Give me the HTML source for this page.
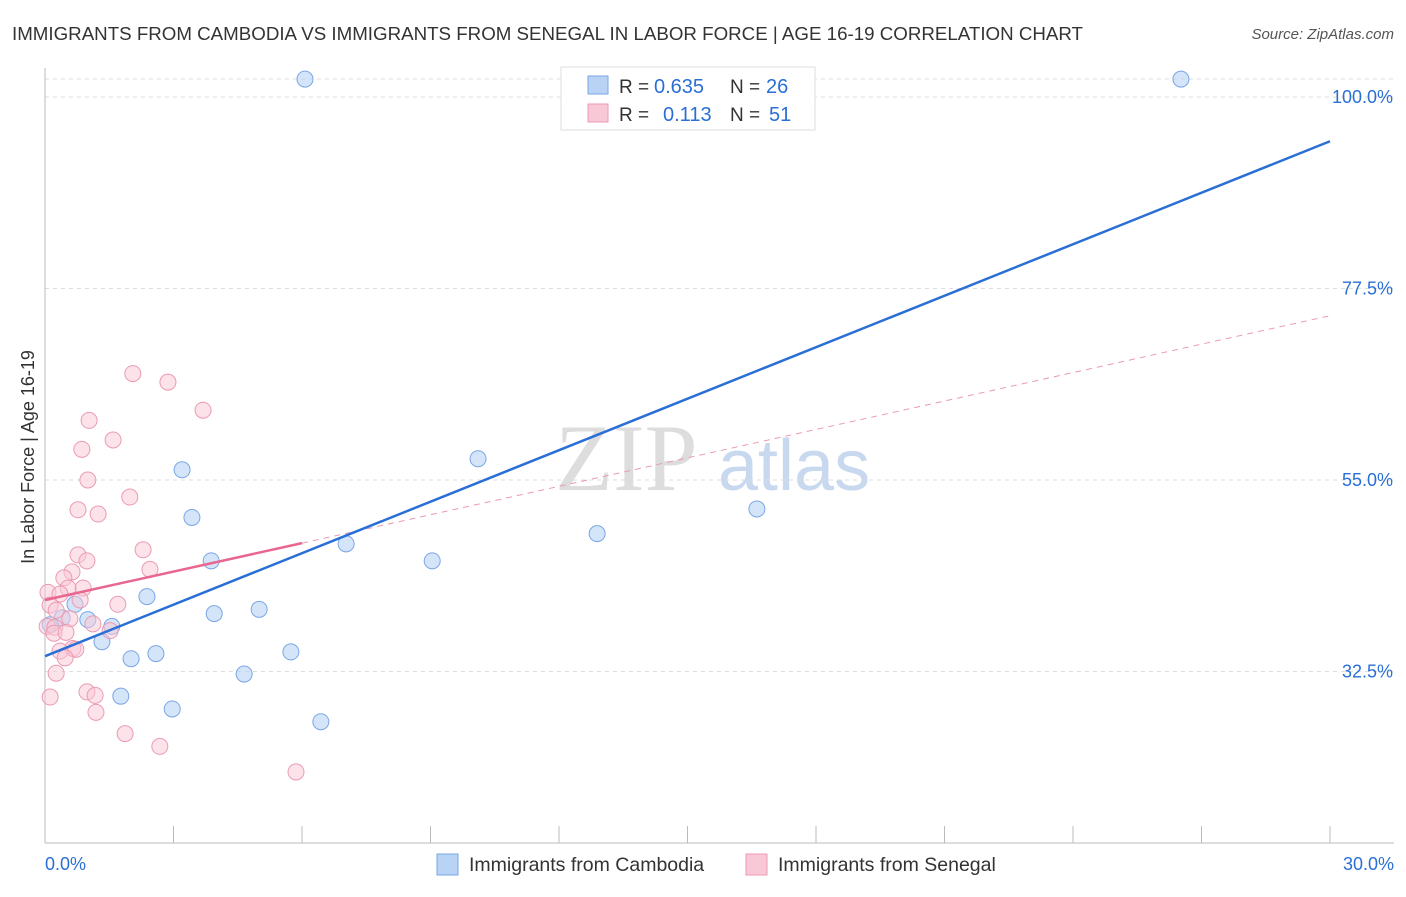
<!DOCTYPE html>
<html><head><meta charset="utf-8"><style>
body{margin:0;background:#fff;font-family:"Liberation Sans",sans-serif}
svg text{font-family:"Liberation Sans",sans-serif}
</style></head><body>
<svg id="c" width="1406" height="892" xmlns="http://www.w3.org/2000/svg">
<text x="12" y="40" font-size="18" fill="#333" textLength="1071" lengthAdjust="spacingAndGlyphs">IMMIGRANTS FROM CAMBODIA VS IMMIGRANTS FROM SENEGAL IN LABOR FORCE | AGE 16-19 CORRELATION CHART</text>
<text x="1394" y="39" font-size="15" fill="#555" text-anchor="end" font-style="italic">Source: ZipAtlas.com</text>
<text x="34" y="457" font-size="18" fill="#333" text-anchor="middle" transform="rotate(-90 34 457)">In Labor Force | Age 16-19</text>
<text x="555" y="490" font-size="95" fill="#ddd" style="font-family:'Liberation Serif',serif">ZIP</text>
<text x="718" y="490" font-size="72" fill="#c8d8ef">atlas</text>
<g id="grid"></g><g id="axes"></g><g id="lines"></g><g id="pts"></g>
<g>
<rect x="561" y="67" width="254" height="63" fill="#fff" stroke="#ddd"/>
<rect x="588" y="76" width="20" height="18" fill="#b9d3f5" stroke="#7aa6e6"/>
<rect x="588" y="104" width="20" height="18" fill="#f9c8d6" stroke="#eb9ab2"/>
<text x="619" y="93" font-size="19" fill="#333">R =</text>
<text x="654" y="93" font-size="20" fill="#2a6fd6">0.635</text>
<text x="730" y="93" font-size="19" fill="#333">N =</text>
<text x="766" y="93" font-size="20" fill="#2a6fd6">26</text>
<text x="619" y="121" font-size="19" fill="#333">R =</text>
<text x="663" y="121" font-size="20" fill="#2a6fd6">0.113</text>
<text x="730" y="121" font-size="19" fill="#333">N =</text>
<text x="769" y="121" font-size="20" fill="#2a6fd6">51</text>
</g>
<g>
<rect x="437" y="854" width="21" height="21" fill="#b9d3f5" stroke="#7aa6e6"/>
<text x="469" y="871" font-size="19.5" fill="#333">Immigrants from Cambodia</text>
<rect x="746" y="854" width="21" height="21" fill="#f9c8d6" stroke="#eb9ab2"/>
<text x="778" y="871" font-size="19.5" fill="#333">Immigrants from Senegal</text>
</g>
<text x="45" y="870" font-size="18" fill="#2a6fd6">0.0%</text>
<text x="1394" y="870" font-size="18" fill="#2a6fd6" text-anchor="end">30.0%</text>
</svg>
<script>
const yTicks=[100,77.5,55,32.5];
const yTickLabels=["100.0%","77.5%","55.0%","32.5%"];
const cambX=[6.07,26.52,3.20,10.11,3.43,16.62,12.89,7.03,3.88,9.04,2.38,0.70,3.95,5.00,1.00,1.56,0.40,1.33,2.01,2.59,5.74,4.65,1.77,2.97,6.44,0.12];
const cambY=[102.1,102.1,56.2,57.5,50.6,51.6,48.7,47.5,45.5,45.5,41.3,40.4,39.3,39.8,38.6,37.8,38.8,36.0,34.0,34.6,34.8,32.2,29.6,28.1,26.6,38.0];
const senX=[2.05,2.87,3.69,1.03,1.59,0.86,1.00,1.98,0.77,1.24,2.29,0.77,0.98,2.45,0.63,0.44,0.54,0.89,0.07,0.35,0.82,0.12,1.70,0.26,0.58,1.12,1.52,0.05,0.23,0.65,0.35,0.72,0.47,0.26,0.98,1.17,1.19,0.12,1.87,2.68,5.86,0.21,0.49];
const senY=[67.5,66.5,63.2,62.0,59.7,58.6,55.0,53.0,51.5,51.0,46.8,46.2,45.5,44.5,44.2,43.5,42.3,42.3,41.8,41.6,40.9,40.3,40.4,39.7,38.7,38.1,37.3,37.8,37.7,35.2,34.9,35.1,34.1,32.3,30.1,29.7,27.7,29.5,25.2,23.7,20.7,37.0,37.1];
const cambTrend=[34.3,94.8];
const senTrend=[40.9,74.3];
const senSolidEnd=6;
const NS="http://www.w3.org/2000/svg";
const X=v=>45+v*1285/30, Y=v=>97+(100-v)*191.5/22.5;
function mk(t,a,p){const e=document.createElementNS(NS,t);for(const k in a)e.setAttribute(k,a[k]);document.getElementById(p).appendChild(e);return e;}
let e=mk('line',{x1:45,x2:1394,y1:79,y2:79,stroke:'#ddd','stroke-dasharray':'4 4'},'grid');


yTicks.forEach((t,i)=>{
 let g=mk('line',{x1:45,x2:1394,y1:Y(t),y2:Y(t),stroke:'#ddd','stroke-dasharray':'4 4'},'grid');
 
 
 let l=mk('text',{x:1393,y:Y(t)+6,'font-size':18,fill:'#2a6fd6','text-anchor':'end'},'grid');l.textContent=yTickLabels[i];
 
 
});
e=mk('line',{x1:45,x2:45,y1:68,y2:843,stroke:'#bbb'},'axes');


e=mk('line',{x1:45,x2:1394,y1:843,y2:843,stroke:'#bbb'},'axes');


for(let i=1;i<=10;i++){let t=mk('line',{x1:X(i*3),x2:X(i*3),y1:826,y2:843,stroke:'#bbb'},'axes');
 
 }
e=mk('line',{x1:X(senSolidEnd),y1:Y(senTrend[0]+(senTrend[1]-senTrend[0])*senSolidEnd/30),x2:X(30),y2:Y(senTrend[1]),stroke:'#eb9ab2','stroke-width':1,'stroke-dasharray':'6 5'},'lines');


cambX.forEach((x,i)=>{let c=mk('circle',{cx:X(x),cy:Y(cambY[i]),r:8,fill:'rgba(185,211,245,0.6)',stroke:'#7aa6e6','stroke-width':1},'pts');
 
 });
senX.forEach((x,i)=>{let c=mk('circle',{cx:X(x),cy:Y(senY[i]),r:8,fill:'rgba(249,200,214,0.5)',stroke:'#eb9ab2','stroke-width':1},'pts');
 
 });
e=mk('line',{x1:X(0),y1:Y(cambTrend[0]),x2:X(30),y2:Y(cambTrend[1]),stroke:'#2a6fd6','stroke-width':2.5},'pts');


e=mk('line',{x1:X(0),y1:Y(senTrend[0]),x2:X(senSolidEnd),y2:Y(senTrend[0]+(senTrend[1]-senTrend[0])*senSolidEnd/30),stroke:'#e8668f','stroke-width':2.5},'pts');


</script>
</body></html>
